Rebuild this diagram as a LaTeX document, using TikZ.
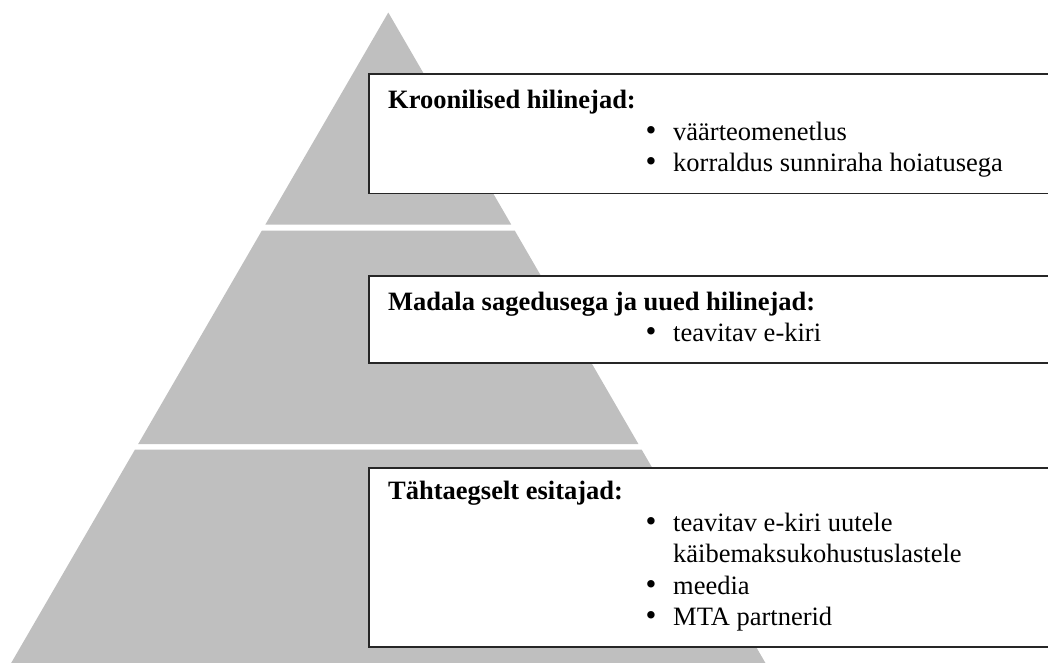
\documentclass[tikz,border=0pt]{standalone}
\usepackage{fontspec}
\setmainfont{Liberation Serif}
\definecolor{pyrfill}{RGB}{191,191,191}
\definecolor{boxline}{RGB}{38,38,38}
\begin{document}
\begin{tikzpicture}[x=1pt,y=-1pt,
  tier/.style={fill=pyrfill, draw=none},
  panel/.style={draw=boxline, line width=1.8pt, fill=white, anchor=north west,
    inner sep=0pt, outer sep=0pt, minimum width=720pt},
  heading/.style={anchor=base west, inner sep=0pt,
    font=\fontsize{26.5}{31.5}\selectfont\bfseries},
  item/.style={anchor=base west, inner sep=0pt,
    font=\fontsize{26.5}{31.5}\selectfont},
  dot/.style={anchor=base, inner sep=0pt,
    font=\fontsize{31}{31.5}\selectfont}]
\useasboundingbox (0,0) rectangle (1048,662);
\clip (0,0) rectangle (1048,662);

% pyramid tiers, separated by thin white gaps
\fill[tier] (388.3,12.5) -- (511.2,224.5) -- (265.4,224.5) -- cycle;
\fill[tier] (261.9,230.5) -- (514.7,230.5) -- (638.4,444) -- (138.2,444) -- cycle;
\fill[tier] (135.0,449.5) -- (641.6,449.5) -- (769.5,670) -- (7.1,670) -- cycle;

% text panels
\node[panel, minimum height=119.5pt] (box1) at (369,74) {};
\node[panel, minimum height=87pt] (box2) at (369,276) {};
\node[panel, minimum height=179pt] (box3) at (369,468) {};

% top tier
\node[heading] (h1) at (388,108) {Kroonilised hilinejad:};
\node[dot] (d11) at (651,140) {•};
\node[item] (t11) at (673,140) {väärteomenetlus};
\node[dot] (d12) at (651,171.5) {•};
\node[item] (t12) at (673,171.5) {korraldus sunniraha hoiatusega};

% middle tier
\node[heading] (h2) at (388,310) {Madala sagedusega ja uued hilinejad:};
\node[dot] (d21) at (651,341.5) {•};
\node[item] (t21) at (673,341.5) {teavitav e-kiri};

% bottom tier
\node[heading] (h3) at (388,499) {Tähtaegselt esitajad:};
\node[dot] (d31) at (651,531) {•};
\node[item] (t31) at (673,531) {teavitav e-kiri uutele};
\node[item] (t32) at (673,562.5) {käibemaksukohustuslastele};
\node[dot] (d33) at (651,594) {•};
\node[item] (t33) at (673,594) {meedia};
\node[dot] (d34) at (651,625.5) {•};
\node[item] (t34) at (673,625.5) {MTA partnerid};
\end{tikzpicture}
\end{document}
